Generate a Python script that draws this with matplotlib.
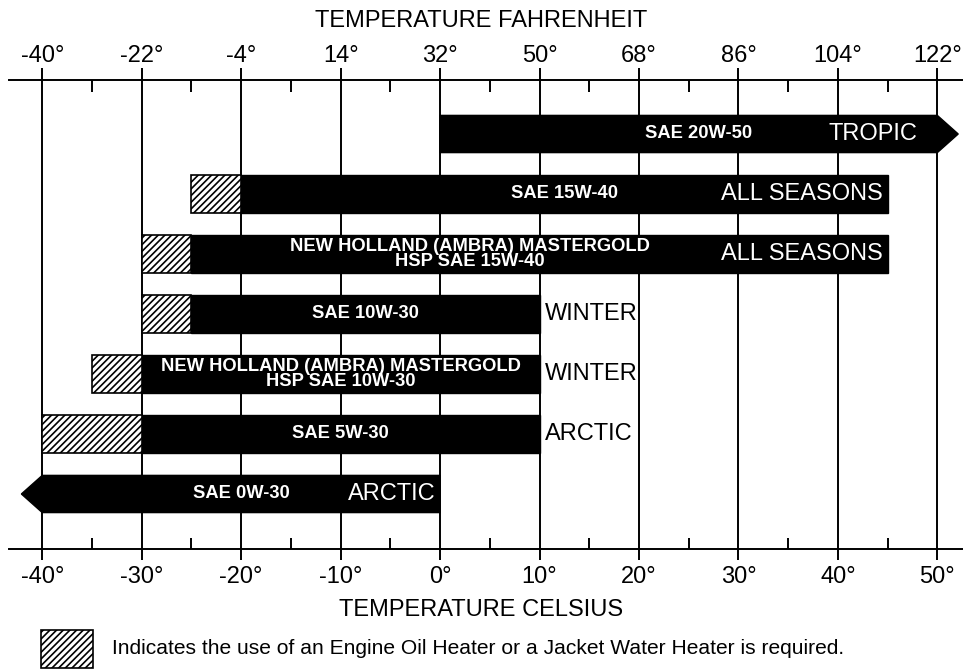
import matplotlib
matplotlib.use("Agg")
import matplotlib.pyplot as plt
from matplotlib.patches import Polygon, Rectangle
from matplotlib.ticker import FixedLocator

plt.rcParams['font.family'] = ['Liberation Sans', 'DejaVu Sans']
plt.rcParams['hatch.linewidth'] = 1.2

# oil grades, top to bottom
oil_names = ["SAE 20W-50",
             "SAE 15W-40",
             "NEW HOLLAND (AMBRA) MASTERGOLD\nHSP SAE 15W-40",
             "SAE 10W-30",
             "NEW HOLLAND (AMBRA) MASTERGOLD\nHSP SAE 10W-30",
             "SAE 5W-30",
             "SAE 0W-30"]
seasons = ["TROPIC", "ALL SEASONS", "ALL SEASONS", "WINTER", "WINTER", "ARCTIC", "ARCTIC"]
heater_from = [None, -25, -30, -30, -35, -40, None]   # deg C, heater needed below low_c
low_c = [0, -20, -25, -25, -30, -30, -40]
high_c = [50, 45, 45, 10, 10, 10, 0]
arrow = ["right", None, None, None, None, None, "left"]
season_inside = [True, True, True, False, False, False, True]

celsius_ticks = [-40, -30, -20, -10, 0, 10, 20, 30, 40, 50]
celsius_minor = [-35, -25, -15, -5, 5, 15, 25, 35, 45]
fahrenheit_ticks = [-40, -22, -4, 14, 32, 50, 68, 86, 104, 122]
fahrenheit_minor = [-31, -13, 5, 23, 41, 59, 77, 95, 113]

note = "Indicates the use of an Engine Oil Heater or a Jacket Water Heater is required."

LW = 1.4
FS = 17
HATCH = '/////'

fig = plt.figure(figsize=(9.63, 6.71), dpi=100)
ax = fig.add_axes([0, 1 - 549 / 671, 1, (549 - 80) / 671])
ax.set_xlim(-44.25, 52.58)
ax.set_ylim(6.917, -0.9)

for s in ['left', 'right']:
    ax.spines[s].set_visible(False)
for s in ['top', 'bottom']:
    ax.spines[s].set_linewidth(LW)
    ax.spines[s].set_bounds(-43.35, 52.58)

ax.set_yticks([])
ax.set_xticks(celsius_ticks)
ax.set_xticklabels([f"{v}°" for v in celsius_ticks], fontsize=FS)
ax.xaxis.set_minor_locator(FixedLocator(celsius_minor))
ax.tick_params(axis='x', which='major', direction='out', length=8, width=LW, pad=4.5, top=False)
ax.tick_params(axis='x', which='minor', direction='in', length=8, width=LW, top=False)
ax.set_xlabel("TEMPERATURE CELSIUS", fontsize=FS, labelpad=8)

sec = ax.secondary_xaxis('top', functions=(lambda c: c * 1.8 + 32, lambda f: (f - 32) / 1.8))
sec.spines['top'].set_visible(False)
sec.set_xticks(fahrenheit_ticks)
sec.set_xticklabels([f"{v}°" for v in fahrenheit_ticks], fontsize=FS)
sec.xaxis.set_minor_locator(FixedLocator(fahrenheit_minor))
sec.tick_params(axis='x', which='major', direction='out', length=8.5, width=LW, pad=0.5)
sec.tick_params(axis='x', which='minor', direction='in', length=8.5, width=LW)
sec.set_xlabel("TEMPERATURE FAHRENHEIT", fontsize=FS, labelpad=13)

for c in celsius_ticks:
    ax.axvline(c, color='black', lw=LW, zorder=1)

h = 0.62
tip = 2.1
for i, name in enumerate(oil_names):
    y0, y1 = i - h / 2, i + h / 2
    lo, hi = low_c[i], high_c[i]
    if arrow[i] == "right":
        pts = [(lo, y0), (hi, y0), (hi + tip, i), (hi, y1), (lo, y1)]
    elif arrow[i] == "left":
        pts = [(lo - tip, i), (lo, y0), (hi, y0), (hi, y1), (lo, y1)]
    else:
        pts = [(lo, y0), (hi, y0), (hi, y1), (lo, y1)]
    ax.add_patch(Polygon(pts, closed=True, facecolor='black', edgecolor='black', lw=1, zorder=3))
    if heater_from[i] is not None:
        ax.add_patch(Rectangle((heater_from[i], y0), lo - heater_from[i], h, facecolor='white',
                               edgecolor='black', hatch=HATCH, lw=1.2, zorder=3))

    cx = (lo + hi) / 2
    if i == 2:
        cx = lo + 28
    if i == 0:
        cx += 1
    ax.text(cx, i, name, color='white', fontsize=13.2, fontweight='bold', ha='center', va='center',
            linespacing=0.92, zorder=4)
    if season_inside[i]:
        right = hi - 2 if arrow[i] == "right" else hi - 0.5
        ax.text(right, i, seasons[i], color='white', fontsize=FS, ha='right', va='center', zorder=4)
    else:
        ax.text(hi + 0.5, i, seasons[i], color='black', fontsize=FS, ha='left', va='center', zorder=4)

# legend for the hatched area
fig.add_artist(Rectangle((41 / 963, 1 - 668 / 671), 52 / 963, 38 / 671, transform=fig.transFigure,
                         facecolor='white', edgecolor='black', hatch=HATCH, lw=1.2))
fig.text(112 / 963, 1 - 649 / 671, note, fontsize=15.1, ha='left', va='center')

fig.savefig("out.png", dpi=100)
